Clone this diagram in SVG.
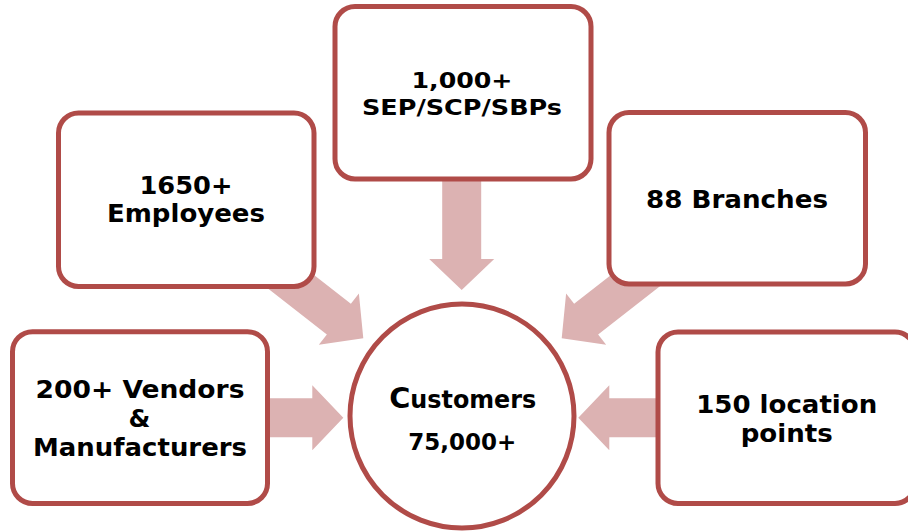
<svg xmlns="http://www.w3.org/2000/svg" xmlns:xlink="http://www.w3.org/1999/xlink" width="908" height="531" viewBox="0 0 908 531">
  <style>
    .box { fill: #ffffff; stroke: #b04b48; stroke-width: 5; }
    .hub { fill: #ffffff; stroke: #b04b48; stroke-width: 5; }
    .arrow { fill: #dcb2b2; stroke: none; }
    .label { font-family: "DejaVu Sans", "Verdana", sans-serif; font-weight: bold; fill: #000000; text-anchor: middle; }
  </style>
  <defs>
    <!-- block arrow, tip at origin, pointing along +x -->
    <polygon id="blockArrow" class="arrow" points="0,0 -31,-32.5 -31,-19.5 -120,-19.5 -120,19.5 -31,19.5 -31,32.5"/>
  </defs>

  <rect width="908" height="531" fill="#ffffff"/>

  <!-- connectors: block arrows pointing into the hub -->
  <g id="connectors">
    <use xlink:href="#blockArrow" href="#blockArrow" transform="translate(461.7,290) rotate(90)"/>
    <use xlink:href="#blockArrow" href="#blockArrow" transform="translate(363.3,338.3) rotate(38)"/>
    <use xlink:href="#blockArrow" href="#blockArrow" transform="translate(561.7,338.3) rotate(142)"/>
    <use xlink:href="#blockArrow" href="#blockArrow" transform="translate(343.3,417.7)"/>
    <use xlink:href="#blockArrow" href="#blockArrow" transform="translate(578.3,417.7) rotate(180)"/>
  </g>

  <g id="node-partners">
    <rect class="box" x="335" y="6.5" width="256" height="172.5" rx="20" ry="20"/>
    <text class="label" x="462" y="88.3" font-size="21" textLength="101" lengthAdjust="spacingAndGlyphs">1,000+</text>
    <text class="label" x="462" y="115" font-size="21" textLength="200" lengthAdjust="spacingAndGlyphs">SEP/SCP/SBPs</text>
  </g>

  <g id="node-employees">
    <rect class="box" x="58.5" y="113" width="255.5" height="173.5" rx="20" ry="20"/>
    <text class="label" x="186" y="194.3" font-size="25.5" textLength="93" lengthAdjust="spacingAndGlyphs">1650+</text>
    <text class="label" x="186" y="222.3" font-size="25" textLength="158" lengthAdjust="spacingAndGlyphs">Employees</text>
  </g>

  <g id="node-branches">
    <rect class="box" x="609" y="112.5" width="256.5" height="171.5" rx="20" ry="20"/>
    <text class="label" x="737" y="207.7" font-size="24" textLength="182" lengthAdjust="spacingAndGlyphs">88 Branches</text>
  </g>

  <g id="node-vendors">
    <rect class="box" x="12.5" y="331.7" width="255" height="171.8" rx="20" ry="20"/>
    <text class="label" x="140" y="398.3" font-size="25" textLength="209" lengthAdjust="spacingAndGlyphs">200+ Vendors</text>
    <text class="label" x="139.5" y="427.3" font-size="25">&amp;</text>
    <text class="label" x="140" y="455.7" font-size="25.5" textLength="214" lengthAdjust="spacingAndGlyphs">Manufacturers</text>
  </g>

  <g id="node-locations">
    <rect class="box" x="658" y="332" width="257" height="171.5" rx="20" ry="20"/>
    <text class="label" x="786.7" y="412.7" font-size="24" textLength="181" lengthAdjust="spacingAndGlyphs">150 location</text>
    <text class="label" x="786.7" y="441.7" font-size="24" textLength="92" lengthAdjust="spacingAndGlyphs">points</text>
  </g>

  <g id="node-customers">
    <circle class="hub" cx="462" cy="416" r="112"/>
    <text class="label" x="462.7" y="408.3" font-size="24" textLength="147" lengthAdjust="spacingAndGlyphs"><tspan font-size="29">C</tspan>ustomers</text>
    <text class="label" x="462.2" y="450" font-size="23.5" textLength="108" lengthAdjust="spacingAndGlyphs">75,000+</text>
  </g>
</svg>
